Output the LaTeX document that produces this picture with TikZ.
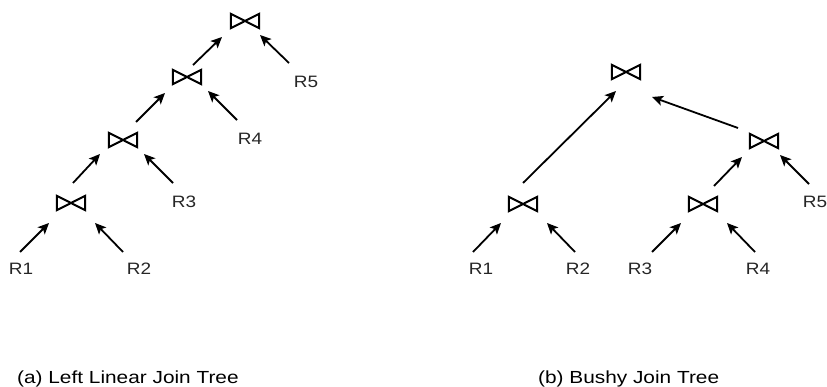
\documentclass[tikz,border=0pt]{standalone}
\usepackage{fontspec}
\setmainfont{Liberation Sans}
\usetikzlibrary{arrows.meta}
\newcommand{\wide}[1]{\scalebox{1.15}[1]{#1}}
\begin{document}
\begin{tikzpicture}[x=1pt,y=-1pt,
  joinbox/.style={minimum width=28pt,minimum height=14pt,inner sep=0pt},
  relbox/.style={inner sep=0pt,font=\fontsize{16.5}{19}\selectfont,text=black!85},
  captext/.style={inner sep=0pt,font=\fontsize{17.5}{20}\selectfont,anchor=base west},
  arr/.style={line width=1.8pt,-{Stealth[length=11pt,width=10pt,inset=2.5pt]}},
  bowtie/.style={line width=2pt,line join=miter}]
\useasboundingbox (0,0) rectangle (827,387);
% left linear tree
\node[joinbox] (a1) at (71,203) {};
\node[joinbox] (a2) at (123,140) {};
\node[joinbox] (a3) at (187,77) {};
\node[joinbox] (a4) at (245,21) {};
\node[relbox] (r1) at (21,269) {\wide{R1}};
\node[relbox] (r2) at (139,269) {\wide{R2}};
\node[relbox] (r3) at (184,202) {\wide{R3}};
\node[relbox] (r4) at (250,139) {\wide{R4}};
\node[relbox] (r5) at (306,82) {\wide{R5}};
% bushy tree
\node[joinbox] (bt) at (626,72) {};
\node[joinbox] (b1) at (523,204) {};
\node[joinbox] (b2) at (764,141) {};
\node[joinbox] (b3) at (703,204) {};
\node[relbox] (s1) at (481,269) {\wide{R1}};
\node[relbox] (s2) at (578,269) {\wide{R2}};
\node[relbox] (s3) at (640,269) {\wide{R3}};
\node[relbox] (s4) at (758,269) {\wide{R4}};
\node[relbox] (s5) at (815,202) {\wide{R5}};
% bowties
\foreach \n in {a1,a2,a3,a4,bt,b1,b2,b3}
  \draw[bowtie] (\n.north west) -- (\n.south east) -- (\n.north east) -- (\n.south west) -- cycle;
% arrows left
\draw[arr] ([shift={(-1,-17)}]r1.center) -- ([shift={(-22,20)}]a1.center);
\draw[arr] ([shift={(-16,-17)}]r2.center) -- ([shift={(24,20)}]a1.center);
\draw[arr] ([shift={(2,-20)}]a1.center) -- ([shift={(-23,14)}]a2.center);
\draw[arr] ([shift={(-11,-19)}]r3.center) -- ([shift={(21,14)}]a2.center);
\draw[arr] ([shift={(13,-18)}]a2.center) -- ([shift={(-22,16)}]a3.center);
\draw[arr] ([shift={(-13,-19)}]r4.center) -- ([shift={(21,14)}]a3.center);
\draw[arr] ([shift={(6,-12)}]a3.center) -- ([shift={(-23,16)}]a4.center);
\draw[arr] ([shift={(-17,-19)}]r5.center) -- ([shift={(15,14)}]a4.center);
% arrows right
\draw[arr] ([shift={(-8,-17)}]s1.center) -- ([shift={(-22,19)}]b1.center);
\draw[arr] ([shift={(-3,-17)}]s2.center) -- ([shift={(24,19)}]b1.center);
\draw[arr] ([shift={(0,-21)}]b1.center) -- ([shift={(-10,19)}]bt.center);
\draw[arr] ([shift={(12,-17)}]s3.center) -- ([shift={(-22,19)}]b3.center);
\draw[arr] ([shift={(-3,-17)}]s4.center) -- ([shift={(24,19)}]b3.center);
\draw[arr] ([shift={(11,-18)}]b3.center) -- ([shift={(-22,16)}]b2.center);
\draw[arr] ([shift={(-6,-18)}]s5.center) -- ([shift={(16,14)}]b2.center);
\draw[arr] ([shift={(-26,-13)}]b2.center) -- ([shift={(26,25)}]bt.center);
% captions
\node[captext] (ca) at (17,383) {\scalebox{1.19}[1]{(a) Left Linear Join Tree}};
\node[captext] (cb) at (538,383) {\scalebox{1.19}[1]{(b) Bushy Join Tree}};
\end{tikzpicture}
\end{document}
